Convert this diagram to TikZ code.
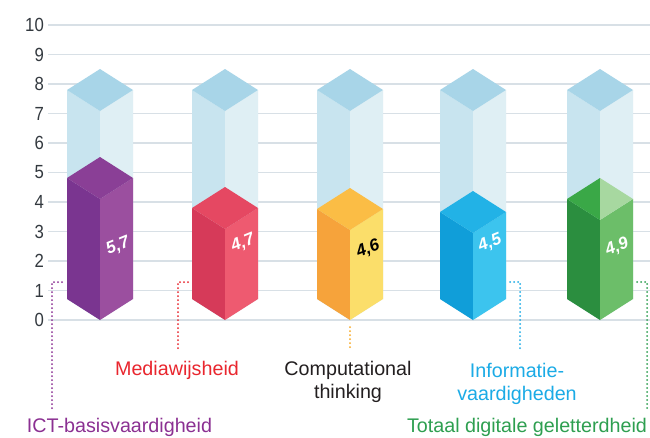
\documentclass[tikz,border=0pt]{standalone}
\usepackage{fontspec}
\setmainfont{Liberation Sans}
\definecolor{gridc}{HTML}{D8E0E6}
\definecolor{numc}{HTML}{33393F}
\definecolor{lbT}{HTML}{A8D5E8}
\definecolor{lbL}{HTML}{C8E4EF}
\definecolor{lbR}{HTML}{DFEFF4}
\definecolor{puL}{HTML}{7A3590}
\definecolor{puR}{HTML}{9B4F9F}
\definecolor{puT}{HTML}{8A3F96}
\definecolor{reL}{HTML}{D63A59}
\definecolor{reR}{HTML}{EE5A70}
\definecolor{reT}{HTML}{E54862}
\definecolor{orL}{HTML}{F6A33B}
\definecolor{orR}{HTML}{FBDE6A}
\definecolor{orT}{HTML}{FBBD45}
\definecolor{blL}{HTML}{109ED9}
\definecolor{blR}{HTML}{3CC4EE}
\definecolor{blT}{HTML}{22B2E6}
\definecolor{grL}{HTML}{2B8E3F}
\definecolor{grR}{HTML}{6CBE69}
\definecolor{grT}{HTML}{3AA847}
\definecolor{grTR}{HTML}{A7D8A0}
\definecolor{txPu}{HTML}{8B3092}
\definecolor{txRe}{HTML}{E9262E}
\definecolor{txBk}{HTML}{231F20}
\definecolor{txOr}{HTML}{F7A823}
\definecolor{txBl}{HTML}{1BABE6}
\definecolor{txGr}{HTML}{2E9F50}
\newcommand\isocol[6]{%
  \fill[#3] (#1-33,#2+21) -- (#1,#2+42) -- (#1,320) -- (#1-33,299) -- cycle;
  \fill[#4] (#1,#2+42) -- (#1+33,#2+21) -- (#1+33,299) -- (#1,320) -- cycle;
  \fill[#5] (#1,#2) -- (#1-33,#2+21) -- (#1,#2+42) -- cycle;
  \fill[#6] (#1,#2) -- (#1+33,#2+21) -- (#1,#2+42) -- cycle;
}
\tikzset{
  gridline/.style={draw=gridc, line width=1.5pt},
  axnum/.style={anchor=east, inner sep=0pt, text=numc, xscale=0.88,
    font=\fontsize{19}{19}\selectfont},
  val/.style={inner sep=0pt, rotate=22, text=white,
    font=\fontsize{17}{17}\selectfont\bfseries\itshape},
  dotline/.style={line width=2pt, line cap=round, dash pattern=on 0pt off 4pt},
  cat/.style={inner sep=0pt, anchor=base, align=center,
    font=\fontsize{19.7}{23}\selectfont}
}
\begin{document}
\begin{tikzpicture}[x=1pt,y=-1pt]
\useasboundingbox (0,0) rectangle (650,437);
\fill[white] (0,0) rectangle (650,437);
% grid and axis numbers
\foreach \k in {0,...,10}{
  \draw[gridline] (48,320-29.5*\k) -- (650,320-29.5*\k);
  \node[axnum] (n\k) at (44,320-29.5*\k) {\k};
}
% transparent columns
\foreach \cx in {100,225,350,473,600}{
  \isocol{\cx}{69}{lbL}{lbR}{lbT}{lbT}
}
% coloured bars
\isocol{100}{157}{puL}{puR}{puT}{puT}
\isocol{225}{187}{reL}{reR}{reT}{reT}
\isocol{350}{188}{orL}{orR}{orT}{orT}
\isocol{473}{191}{blL}{blR}{blT}{blT}
\isocol{600}{178}{grL}{grR}{grT}{grTR}
% values
\node[val] (v1) at (118,246) {5,7};
\node[val] (v2) at (243,243) {4,7};
\node[val, text=black] (v3) at (368,249) {4,6};
\node[val] (v4) at (490,243) {4,5};
\node[val] (v5) at (617,247) {4,9};
% category labels
\node[cat, text=txPu] (c1) at (119.5,432) {ICT-basisvaardigheid};
\node[cat, text=txRe] (c2) at (177,375) {Mediawijsheid};
\node[cat, text=txBk] (c3) at (348,398) {Computational\\thinking};
\node[cat, text=txBl] (c4) at (517,400) {Informatie-\\vaardigheden};
\node[cat, text=txGr] (c5) at (527,432) {Totaal digitale geletterdheid};
% dotted leaders
\coordinate (a1) at (62,282);  \coordinate (b1) at (52,408);
\coordinate (a2) at (188,282); \coordinate (b2) at (178,348);
\coordinate (a3) at (350,327); \coordinate (b3) at (350,348);
\coordinate (a4) at (510,282); \coordinate (b4) at (520,348);
\coordinate (a5) at (637,282); \coordinate (b5) at (647,408);
\draw[dotline, txPu] (a1) -| (b1);
\draw[dotline, txRe] (a2) -| (b2);
\draw[dotline, txOr] (a3) -- (b3);
\draw[dotline, txBl] (a4) -| (b4);
\draw[dotline, txGr] (a5) -| (b5);
\end{tikzpicture}
\end{document}
